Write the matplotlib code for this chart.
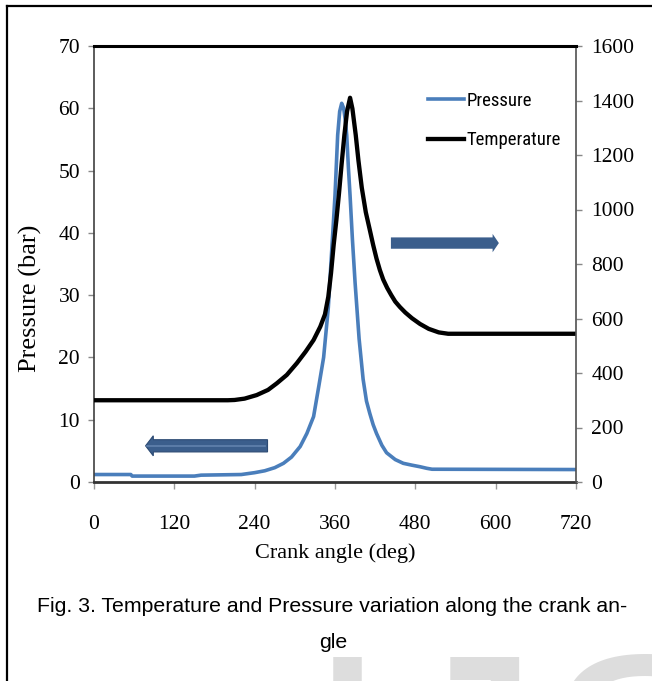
import matplotlib
matplotlib.use('Agg')
import matplotlib.pyplot as plt
from matplotlib import font_manager
from matplotlib.lines import Line2D
from matplotlib.patches import FancyArrow

# crank angle (deg) and pressure (bar)
p_angle = [0, 55, 57, 150, 160, 220, 240, 255, 270, 283, 295, 308, 318, 328, 336,
           343, 350, 355, 360, 364, 367, 370, 373, 375.5, 377.5, 380, 382.5, 386, 390,
           396, 402, 407, 412, 417, 422, 430, 437, 450, 462, 475, 487, 497, 505, 720]
pressure = [1.2, 1.2, 0.95, 0.95, 1.1, 1.2, 1.5, 1.8, 2.3, 3.0, 4.0, 5.7, 7.8, 10.5, 15.5,
            20.0, 28.0, 37.0, 46.0, 55.7, 59.5, 60.8, 60.0, 58.0, 55.7, 50.5, 46.0, 39.0, 32.0,
            23.0, 16.5, 13.0, 11.0, 9.2, 7.8, 5.9, 4.7, 3.6, 3.0, 2.7, 2.45, 2.2, 2.05, 2.0]

# crank angle (deg) and temperature (K)
t_angle = [0, 200, 210, 225, 243, 260, 273, 288, 303, 316, 328, 338, 345, 350, 354,
           358, 362, 366, 370, 374, 378, 382.5, 386, 391, 395, 400, 406, 412, 417,
           422, 427, 432, 438, 444, 450, 457, 465, 475, 487, 500, 515, 529, 720]
temperature = [300, 300, 301, 306, 319, 338, 362, 393, 436, 478, 521, 570, 615, 680, 765,
               870, 960, 1060, 1170, 1273, 1360, 1410, 1370, 1273, 1180, 1080, 990, 925, 870,
               820, 778, 743, 712, 686, 662, 642, 622, 601, 580, 562, 549, 544, 544]

x_ticks = [0, 120, 240, 360, 480, 600, 720]
p_ticks = [0, 10, 20, 30, 40, 50, 60, 70]
t_ticks = [0, 200, 400, 600, 800, 1000, 1200, 1400, 1600]

names = {f.name for f in font_manager.fontManager.ttflist}


def pick(*cands):
    for c in cands:
        if c in names:
            return c
    return 'DejaVu Sans'


serif = pick('Liberation Serif', 'DejaVu Serif')
narrow = pick('Liberation Sans Narrow', 'Roboto Condensed', 'Liberation Sans')
sans = pick('Liberation Sans', 'Arial', 'DejaVu Sans')

fig = plt.figure(figsize=(6.52, 6.81), dpi=100)
ax = fig.add_axes([94 / 652, 1 - 482 / 681, 482 / 652, 436 / 681])
ax2 = ax.twinx()

blue = '#4a7ebb'
l1, = ax.plot(p_angle, pressure, color=blue, lw=2.6, solid_joinstyle='round')
l2, = ax2.plot(t_angle, temperature, color='black', lw=3.1, solid_joinstyle='round')

ax.set_xlim(0, 720)
ax.set_ylim(0, 70)
ax2.set_ylim(0, 1600)
ax.set_xticks(x_ticks)
ax.set_yticks(p_ticks)
ax2.set_yticks(t_ticks)

for a in (ax, ax2):
    for lab in a.get_xticklabels() + a.get_yticklabels():
        lab.set_fontfamily(serif)
        lab.set_fontsize(15.5)
    for s in a.spines.values():
        s.set_visible(False)

ax.spines['left'].set_visible(True)
ax.spines['left'].set_color('#404040')
ax.spines['left'].set_linewidth(1.2)
ax.spines['bottom'].set_visible(True)
ax.spines['bottom'].set_color('#333333')
ax.spines['bottom'].set_linewidth(2.0)
ax2.spines['top'].set_visible(True)
ax2.spines['top'].set_color('black')
ax2.spines['top'].set_linewidth(2.2)
ax2.spines['right'].set_visible(True)
ax2.spines['right'].set_color('#505050')
ax2.spines['right'].set_linewidth(1.2)

ax.tick_params(axis='y', direction='out', length=4, width=1, color='#888888', pad=6)
ax.tick_params(axis='x', direction='out', length=5, width=1, color='#999999', pad=19)
ax2.tick_params(axis='y', direction='out', length=4, width=1, color='#888888', pad=7)

ax.set_xlabel('Crank angle (deg)', fontfamily=serif, fontsize=16)
ax.xaxis.set_label_coords(0.5, -0.140)
ax.set_ylabel('Pressure (bar)', fontfamily=serif, fontsize=19)
ax.yaxis.set_label_coords(-0.108, 0.422)

# direction arrows
ax2.add_patch(FancyArrow(0.616, 0.548, 0.224, 0, width=0.026, head_width=0.042,
                         head_length=0.013, length_includes_head=True,
                         transform=ax.transAxes, color='#3b5e8c', lw=0))
ax2.add_patch(FancyArrow(0.360, 0.083, -0.253, 0, width=0.028, head_width=0.046,
                         head_length=0.016, length_includes_head=True,
                         transform=ax.transAxes, facecolor='#3b5e8c',
                         edgecolor='#2c4a73', lw=0.8))
ax2.plot([0.11, 0.355], [0.083, 0.083], transform=ax.transAxes,
         color='#6a8bb5', lw=1.2, alpha=0.8)

leg = ax2.legend([l1, l2], ['Pressure', 'Temperature'], loc='upper left',
                 bbox_to_anchor=(0.693, 0.895), frameon=False, borderpad=0,
                 borderaxespad=0, handlelength=1.9, handletextpad=0.15,
                 labelspacing=1.15, prop={'family': narrow, 'size': 13.5})

# page frame, caption and watermark
fig.add_artist(Line2D([7 / 652, 7 / 652], [0, 1 - 6 / 681], color='black', lw=1.6))
fig.add_artist(Line2D([7 / 652, 1], [1 - 6 / 681, 1 - 6 / 681], color='black', lw=1.6))
fig.text(305 / 652, -0.275, 'IJSER', fontsize=220, color='#dddddd',
         fontfamily=sans, ha='left', va='baseline', zorder=0)
fig.text(37 / 652, 1 - 607 / 681,
         'Fig. 3. Temperature and Pressure variation along the crank an-',
         fontfamily=sans, fontsize=15.3, ha='left', va='center')
fig.text(333 / 652, 1 - 643 / 681, 'gle', fontfamily=sans, fontsize=15.3,
         ha='center', va='center')

fig.savefig('out.png', dpi=100)
